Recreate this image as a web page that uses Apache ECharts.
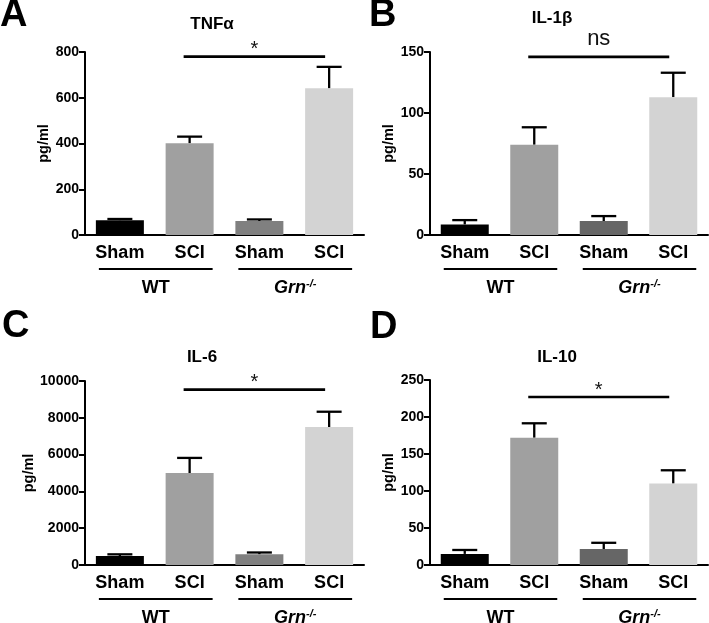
<!DOCTYPE html>
<html>
<head>
<meta charset="utf-8">
<script src="https://cdn.jsdelivr.net/npm/echarts@6/dist/echarts.min.js"></script>
<style>html,body{margin:0;padding:0;background:#fff;}#c{width:709px;height:623px;}</style>
</head>
<body>
<div id="c"></div>
<script>
// ---- data ----
const categories = ['Sham', 'SCI', 'Sham', 'SCI'];
const panelLetters = ['A', 'B', 'C', 'D'];
const panelTitles = ['TNF\u03b1', 'IL-1\u03b2', 'IL-6', 'IL-10'];
const tnfMean = [65, 401, 61, 641];
const tnfErr = [5, 29, 7, 94];
const il1bMean = [8.7, 74, 11.4, 113];
const il1bErr = [3.5, 14.3, 4.1, 20];
const il6Mean = [488, 5000, 580, 7500];
const il6Err = [92, 820, 100, 830];
const il10Mean = [15, 172, 21.6, 110];
const il10Err = [5.3, 19.5, 8.4, 18];
const yMax = [800, 150, 10000, 250];
const yInterval = [200, 50, 2000, 50];
const sigFrom = [1, 1, 1, 1];
const sigTo = [3, 3, 3, 3];
const sigY = [780, 146, 9530, 227];
const sigLabel = ['*', 'ns', '*', '*'];
const groupNames = ['WT', 'Grn-/-'];
const groupFrom = [0, 2];
const groupTo = [1, 3];

const means = [tnfMean, il1bMean, il6Mean, il10Mean];
const errs = [tnfErr, il1bErr, il6Err, il10Err];

// ---- styling / layout ----
const FONT = 'Liberation Sans, Arial, Helvetica, sans-serif';
const barColorsAC = ['#000000', '#a0a0a0', '#808080', '#d3d3d3'];
const barColorsBD = ['#000000', '#a0a0a0', '#666666', '#d3d3d3'];
const grids = [
  {left: 85, top: 52, width: 279, height: 183},
  {left: 430, top: 52, width: 278, height: 183},
  {left: 85, top: 381, width: 279, height: 184},
  {left: 430, top: 380, width: 278, height: 185}
];
const nameGaps = [31, 33, 43, 33];
const letterPos = [[14, 16], [383, 16], [16, 327], [384, 328]];
const titlePos = [[212, 24], [552, 18], [202, 357], [557, 357]];

const chart = echarts.init(document.getElementById('c'), null, {renderer: 'canvas'});

const option = {
  animation: false,
  backgroundColor: '#fff',
  grid: grids.map(g => Object.assign({containLabel: false}, g)),
  xAxis: grids.map((g, i) => ({
    type: 'category', gridIndex: i, data: categories,
    axisLine: {lineStyle: {color: '#000', width: 2}},
    axisTick: {alignWithLabel: true, length: 6, lineStyle: {color: '#000', width: 2}},
    axisLabel: {color: '#000', fontFamily: FONT, fontWeight: 'bold', fontSize: 18, margin: 9, interval: 0}
  })),
  yAxis: grids.map((g, i) => ({
    type: 'value', gridIndex: i, min: 0, max: yMax[i], interval: yInterval[i],
    name: 'pg/ml', nameLocation: 'middle', nameGap: nameGaps[i],
    nameTextStyle: {color: '#000', fontFamily: FONT, fontWeight: 'bold', fontSize: 14.5},
    axisLine: {show: true, lineStyle: {color: '#000', width: 2}},
    axisTick: {show: true, length: 6, lineStyle: {color: '#000', width: 2}},
    splitLine: {show: false},
    axisLabel: {color: '#000', fontFamily: FONT, fontWeight: 'bold', fontSize: 14, margin: 6,
      formatter: function (v) { return String(v); }}
  })),
  graphic: [],
  series: []
};

panelLetters.forEach((L, i) => {
  option.graphic.push({
    type: 'text', left: letterPos[i][0] - 14, top: letterPos[i][1] - 19,
    style: {text: L, font: 'bold 38px ' + FONT, fill: '#000'}
  });
  option.graphic.push({
    type: 'text', x: titlePos[i][0], y: titlePos[i][1],
    style: {text: panelTitles[i], font: 'bold 17px ' + FONT, fill: '#000', textAlign: 'center', textVerticalAlign: 'middle'}
  });
});

for (let i = 0; i < 4; i++) {
  const colors = (i === 1 || i === 3) ? barColorsBD : barColorsAC;
  option.series.push({
    type: 'bar', xAxisIndex: i, yAxisIndex: i, barWidth: 48,
    data: means[i].map((v, k) => ({value: v, itemStyle: {color: colors[k]}}))
  });
  // error bars (upper)
  option.series.push({
    type: 'custom', xAxisIndex: i, yAxisIndex: i, clip: false,
    data: means[i].map((v, k) => [k, v, errs[i][k]]),
    renderItem: function (params, api) {
      const x = api.value(0), m = api.value(1), e = api.value(2);
      const p0 = api.coord([x, m]);
      const p1 = api.coord([x, m + e]);
      const st = {stroke: '#000', lineWidth: 2.3};
      return {type: 'group', children: [
        {type: 'line', shape: {x1: p0[0], y1: p0[1], x2: p1[0], y2: p1[1]}, style: st},
        {type: 'line', shape: {x1: p1[0] - 12.5, y1: p1[1], x2: p1[0] + 12.5, y2: p1[1]}, style: st}
      ]};
    }
  });
  // significance bar
  option.series.push({
    type: 'custom', xAxisIndex: i, yAxisIndex: i, clip: false,
    data: [[sigFrom[i], sigTo[i], sigY[i]]],
    renderItem: (function (idx) {
      return function (params, api) {
        const a = api.coord([api.value(0), api.value(2)]);
        const b = api.coord([api.value(1), api.value(2)]);
        const lab = sigLabel[idx];
        const isNs = lab === 'ns';
        return {type: 'group', children: [
          {type: 'line', shape: {x1: a[0] - 6, y1: a[1], x2: b[0] - 4, y2: b[1]}, style: {stroke: '#000', lineWidth: 2.6}},
          {type: 'text', x: (a[0] + b[0]) / 2 - 5, y: a[1] + (isNs ? -18 : -7),
            style: {text: lab, font: (isNs ? '22px ' : '20px ') + FONT, fill: '#111', textAlign: 'center', textVerticalAlign: 'middle'}}
        ]};
      };
    })(i)
  });
  // group lines & labels
  option.series.push({
    type: 'custom', xAxisIndex: i, yAxisIndex: i, clip: false, silent: true,
    data: groupFrom.map((f, k) => [f, groupTo[k]]),
    renderItem: function (params, api) {
      const a = api.coord([api.value(0), 0]);
      const b = api.coord([api.value(1), 0]);
      const x1 = a[0] - 21, x2 = b[0] + 23, y = a[1] + 34;
      const name = groupNames[params.dataIndex];
      const isGrn = name.indexOf('Grn') === 0;
      const txt = isGrn ? '{i|Grn}{s|-/-}' : '{b|' + name + '}';
      return {type: 'group', children: [
        {type: 'line', shape: {x1: x1, y1: y, x2: x2, y2: y}, style: {stroke: '#000', lineWidth: 2}},
        {type: 'text', x: (x1 + x2) / 2, y: a[1] + 53,
          style: {text: txt, textAlign: 'center', textVerticalAlign: 'middle',
            rich: {
              b: {fontFamily: FONT, fontWeight: 'bold', fontSize: 18, fill: '#000', color: '#000'},
              i: {fontFamily: FONT, fontWeight: 'bold', fontStyle: 'italic', fontSize: 18, fill: '#000', color: '#000'},
              s: {fontFamily: FONT, fontWeight: 'bold', fontStyle: 'italic', fontSize: 11, fill: '#000', color: '#000', verticalAlign: 'top', padding: [0, 0, 8, 0]}
            }}}
      ]};
    }
  });
}

chart.setOption(option);
</script>
</body>
</html>
